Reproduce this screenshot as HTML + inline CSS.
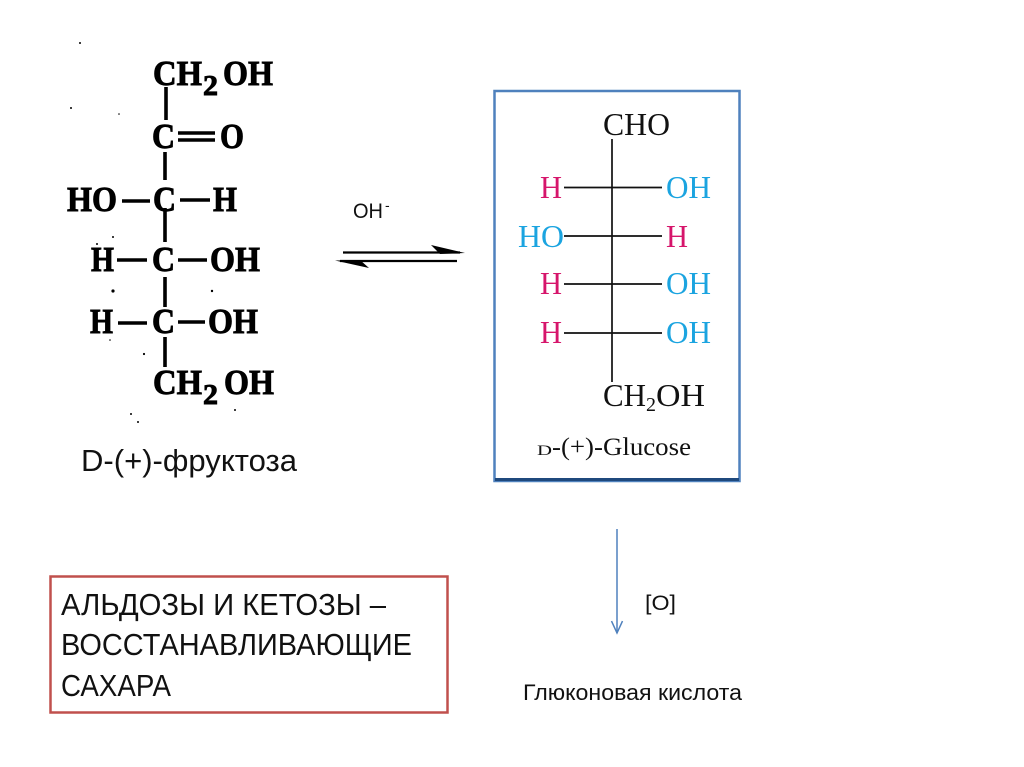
<!DOCTYPE html>
<html lang="ru">
<head>
<meta charset="utf-8">
<title>D-фруктоза и D-глюкоза</title>
<style>
html,body{margin:0;padding:0;background:#fff;}
svg{display:block;}
.f{font-family:"Liberation Serif",serif;font-weight:bold;font-size:35px;fill:#000;stroke:#000;stroke-width:.9px;}
.g{font-family:"Liberation Serif",serif;font-size:32px;fill:#111;}
.p{fill:#d6156b;}
.b{fill:#1ba4e0;}
.s{font-family:"Liberation Sans",sans-serif;fill:#111;}
</style>
</head>
<body>
<svg width="1024" height="767" viewBox="0 0 1024 767" xmlns="http://www.w3.org/2000/svg">
<rect width="1024" height="767" fill="#fff"/>

<!-- Fructose -->
<g>
<text class="f" x="153" y="85" textLength="49" lengthAdjust="spacingAndGlyphs">CH</text>
<text class="f" x="203" y="95" style="font-size:29px" textLength="15" lengthAdjust="spacingAndGlyphs">2</text>
<text class="f" x="223" y="85" textLength="50" lengthAdjust="spacingAndGlyphs">OH</text>
<text class="f" x="152" y="148" textLength="23" lengthAdjust="spacingAndGlyphs">C</text>
<text class="f" x="220" y="148" textLength="24" lengthAdjust="spacingAndGlyphs">O</text>
<text class="f" x="67" y="211" textLength="50" lengthAdjust="spacingAndGlyphs">HO</text>
<text class="f" x="153" y="211" textLength="23" lengthAdjust="spacingAndGlyphs">C</text>
<text class="f" x="213" y="211" textLength="24" lengthAdjust="spacingAndGlyphs">H</text>
<text class="f" x="91" y="271" textLength="23" lengthAdjust="spacingAndGlyphs">H</text>
<text class="f" x="152" y="271" textLength="23" lengthAdjust="spacingAndGlyphs">C</text>
<text class="f" x="210" y="271" textLength="50" lengthAdjust="spacingAndGlyphs">OH</text>
<text class="f" x="90" y="333" textLength="23" lengthAdjust="spacingAndGlyphs">H</text>
<text class="f" x="152" y="333" textLength="23" lengthAdjust="spacingAndGlyphs">C</text>
<text class="f" x="208" y="333" textLength="50" lengthAdjust="spacingAndGlyphs">OH</text>
<text class="f" x="153" y="394" textLength="49" lengthAdjust="spacingAndGlyphs">CH</text>
<text class="f" x="203" y="404" style="font-size:29px" textLength="15" lengthAdjust="spacingAndGlyphs">2</text>
<text class="f" x="224" y="394" textLength="50" lengthAdjust="spacingAndGlyphs">OH</text>
<g stroke="#000" stroke-width="3.6" fill="none">
<path d="M166 87V120M165 152V180M165 208V242M165 277V307M165 337V367"/>
<path d="M178 133H215M178 140H215"/>
<path d="M122 201H150M180 200H210M117 260H147M178 260H207M118 323H147M178 322H205"/>
</g>
<g fill="#000">
<circle cx="80" cy="43" r="1"/><circle cx="71" cy="108" r="1"/><circle cx="119" cy="114" r=".8"/>
<circle cx="113" cy="237" r="1"/><circle cx="97" cy="244" r="1"/><circle cx="113" cy="291" r="1.6"/>
<circle cx="212" cy="291" r="1.2"/><circle cx="144" cy="354" r="1.1"/><circle cx="131" cy="414" r="1"/>
<circle cx="138" cy="422" r="1"/><circle cx="235" cy="410" r="1"/><circle cx="110" cy="340" r=".8"/>
</g>
</g>
<text class="s" x="81" y="471" font-size="31" textLength="216" lengthAdjust="spacingAndGlyphs">D-(+)-фруктоза</text>

<!-- Equilibrium -->
<text class="s" x="353" y="218" font-size="21" textLength="30" lengthAdjust="spacingAndGlyphs">OH</text>
<text class="s" x="385" y="210" font-size="14">-</text>
<path d="M343 252.500H460" stroke="#000" stroke-width="2.200" fill="none"/>
<path d="M431 245L465 253L440 254Z" fill="#000"/>
<path d="M340 261H457" stroke="#000" stroke-width="2.200" fill="none"/>
<path d="M335 260.500L369 268L360 260Z" fill="#000"/>

<!-- Glucose box -->
<rect x="494.500" y="91" width="245" height="390" fill="#fff" stroke="#4f81bd" stroke-width="2.500"/>
<path d="M495 479.500H739" stroke="#1f497d" stroke-width="3" fill="none"/>
<path d="M612 139V382" stroke="#111" stroke-width="1.700" fill="none"/>
<path d="M564 187.500H662M564 236H662M564 284H662M564 333H662" stroke="#111" stroke-width="1.700" fill="none"/>
<text class="g" x="603" y="135" textLength="67" lengthAdjust="spacingAndGlyphs">CHO</text>
<text class="g p" x="540" y="198" textLength="22" lengthAdjust="spacingAndGlyphs">H</text>
<text class="g b" x="666" y="198" textLength="45" lengthAdjust="spacingAndGlyphs">OH</text>
<text class="g b" x="518" y="247" textLength="46" lengthAdjust="spacingAndGlyphs">HO</text>
<text class="g p" x="666" y="247" textLength="22" lengthAdjust="spacingAndGlyphs">H</text>
<text class="g p" x="540" y="294" textLength="22" lengthAdjust="spacingAndGlyphs">H</text>
<text class="g b" x="666" y="294" textLength="45" lengthAdjust="spacingAndGlyphs">OH</text>
<text class="g p" x="540" y="343" textLength="22" lengthAdjust="spacingAndGlyphs">H</text>
<text class="g b" x="666" y="343" textLength="45" lengthAdjust="spacingAndGlyphs">OH</text>
<text class="g" x="603" y="406" textLength="43" lengthAdjust="spacingAndGlyphs">CH</text>
<text class="g" x="646" y="411" style="font-size:20px" textLength="10" lengthAdjust="spacingAndGlyphs">2</text>
<text class="g" x="656" y="406" textLength="49" lengthAdjust="spacingAndGlyphs">OH</text>
<text class="g" x="537" y="455" style="font-size:15px" textLength="15" lengthAdjust="spacingAndGlyphs">D</text>
<text class="g" x="552" y="455" style="font-size:25px" textLength="139" lengthAdjust="spacingAndGlyphs">-(+)-Glucose</text>

<!-- Oxidation arrow -->
<path d="M617 529V633" stroke="#4f81bd" stroke-width="1.500" fill="none"/>
<path d="M611.500 621L617 633L622.500 621" stroke="#4f81bd" stroke-width="1.500" fill="none"/>
<text class="s" x="645" y="610" font-size="21" textLength="31" lengthAdjust="spacingAndGlyphs">[O]</text>
<text class="s" x="523" y="700" font-size="22" textLength="219" lengthAdjust="spacingAndGlyphs">Глюконовая кислота</text>

<!-- Red box -->
<rect x="50.500" y="576.500" width="397" height="136" fill="#fff" stroke="#c0504d" stroke-width="2.500"/>
<text class="s" x="61" y="615" font-size="31" textLength="325" lengthAdjust="spacingAndGlyphs">АЛЬДОЗЫ И КЕТОЗЫ –</text>
<text class="s" x="61" y="655" font-size="31" textLength="351" lengthAdjust="spacingAndGlyphs">ВОССТАНАВЛИВАЮЩИЕ</text>
<text class="s" x="61" y="696" font-size="31" textLength="110" lengthAdjust="spacingAndGlyphs">САХАРА</text>
</svg>
</body>
</html>
